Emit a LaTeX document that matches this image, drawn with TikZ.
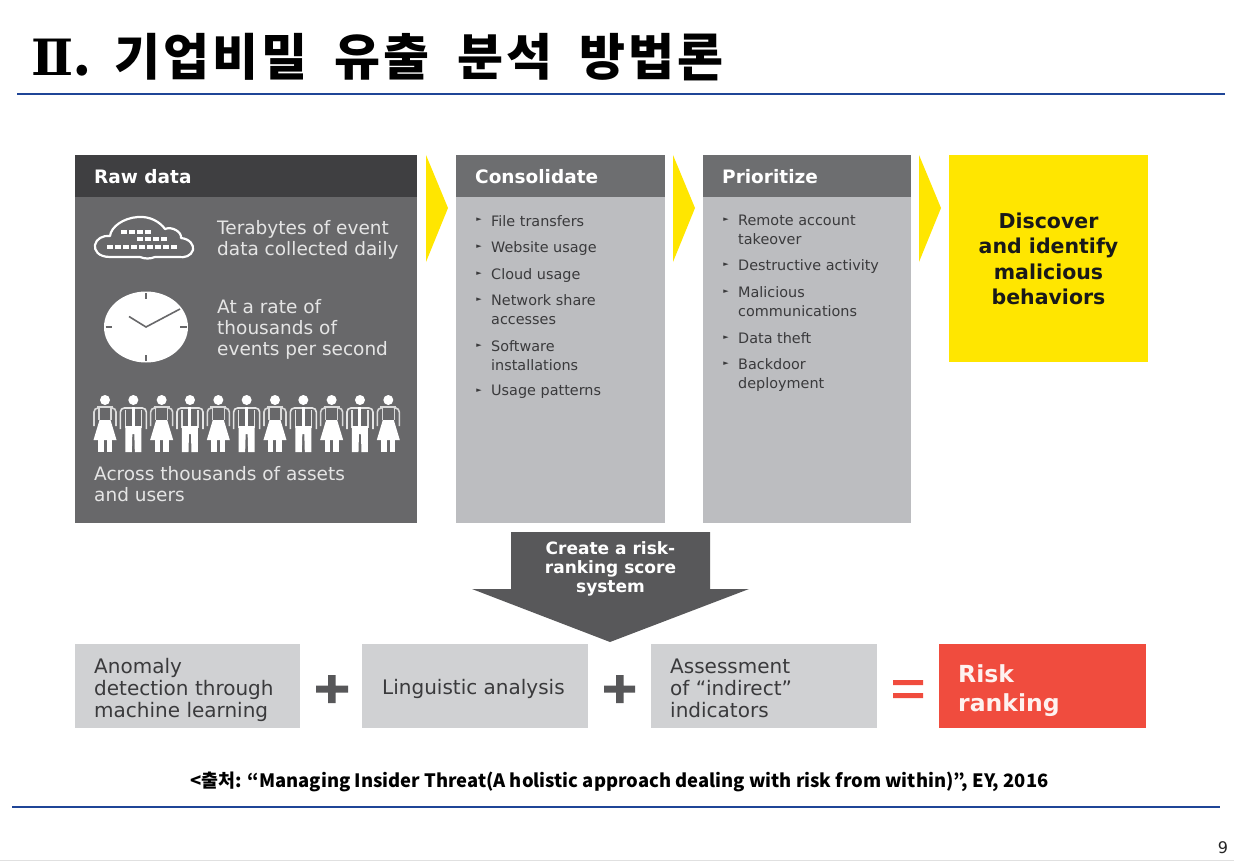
\documentclass[tikz,border=0pt]{standalone}
\usepackage{fontspec}
\setmainfont{DejaVu Sans}
\newfontfamily\krfont{Noto Sans CJK KR}
\newfontfamily\titlefont[LetterSpace=6,WordSpace=1.9]{Noto Sans CJK KR}
\newfontfamily\romfont{DejaVu Serif}
\usetikzlibrary{calc}
\definecolor{rawhead}{HTML}{3F3F41}
\definecolor{rawbody}{HTML}{68686A}
\definecolor{midhead}{HTML}{6D6E70}
\definecolor{midbody}{HTML}{BCBDC0}
\definecolor{lowbox}{HTML}{D0D1D3}
\definecolor{eyyellow}{HTML}{FFE600}
\definecolor{eyred}{HTML}{F04C3E}
\definecolor{arrowgrey}{HTML}{58585A}
\definecolor{rulenavy}{HTML}{1F4597}
\definecolor{txtdark}{HTML}{3A3A3C}
\tikzset{
  x=1pt,y=-1pt,
  panel/.style={fill=#1,draw=none},
  chev/.style={fill=eyyellow,draw=none},
  headtxt/.style={anchor=west,inner sep=0pt,text=white,font=\fontsize{18.5}{20}\selectfont\bfseries},
  rawtxt/.style={anchor=north west,inner sep=0pt,align=left,text=white!90!black,font=\fontsize{18.5}{21}\selectfont},
  listtxt/.style={anchor=north west,inner sep=0pt,align=left,text=txtdark,font=\fontsize{14.4}{19.3}\selectfont},
  bul/.style={anchor=center,inner sep=0pt,text=txtdark,font=\fontsize{7}{7}\selectfont},
  lowtxt/.style={anchor=west,inner sep=0pt,align=left,text=txtdark,font=\fontsize{20}{22.3}\selectfont},
  ruleline/.style={draw=rulenavy,line width=2pt},
  woman/.pic={
    \fill[white] (0,0) circle (5);
    \draw[white!85!black,line width=1.6pt,rounded corners=4] (-8,8) -- (-11,8) -- (-11,26);
    \draw[white!85!black,line width=1.6pt,rounded corners=4] (8,8) -- (11,8) -- (11,26);
    \draw[white!85!black,line width=1.3pt] (-8,7) -- (8,7) (-6,7) -- (-6,20) (6,7) -- (6,20);
    \fill[white] (-5.5,20) -- (5.5,20) -- (11.5,40) -- (-11.5,40) -- cycle;
    \fill[white] (-7,40) rectangle (-1.5,52);
    \fill[white] (1.5,40) rectangle (7,52);
  },
  man/.pic={
    \fill[white] (0,0) circle (5);
    \draw[white!90!black,line width=1.6pt,rounded corners=4] (-13,29) -- (-13,8) -- (13,8) -- (13,29);
    \draw[white!90!black,line width=1.3pt] (-8,10) -- (-8,28) (8,10) -- (8,28);
    \fill[white] (-1.5,7) rectangle (1.5,26);
    \fill[white] (-8,26) -- (8,26) -- (8,52) -- (1.5,52) -- (1,34) -- (-1,34) -- (-1.5,52) -- (-8,52) -- cycle;
  },
}
\begin{document}
\begin{tikzpicture}
\useasboundingbox (0,0) rectangle (1234,861);
\fill[white] (0,0) rectangle (1234,861);
% title
\node[anchor=west,inner sep=0pt,text=black,font=\titlefont\bfseries\fontsize{50}{54}\selectfont] (title) at (31,57) {{\romfont\bfseries Ⅱ}. \hspace{-9pt}기업비밀 유출 분석 방법론};
\coordinate (r1a) at (17,94); \coordinate (r1b) at (1225,94);
\draw[ruleline] (r1a) -- (r1b);
\coordinate (r2a) at (12,807); \coordinate (r2b) at (1220,807);
\draw[ruleline] (r2a) -- (r2b);
\fill[black!12] (0,860) rectangle (1234,861);
% panels
\path[panel=rawbody] (75,155) rectangle (417,523);
\path[panel=rawhead] (75,155) rectangle (417,197);
\path[panel=midbody] (456,155) rectangle (665,523);
\path[panel=midhead] (456,155) rectangle (665,197);
\path[panel=midbody] (703,155) rectangle (911,523);
\path[panel=midhead] (703,155) rectangle (911,197);
\path[panel=eyyellow] (949,155) rectangle (1148,362);
% chevrons
\path[chev] (426,155) -- (448,208) -- (426,262) -- cycle;
\path[chev] (673,155) -- (695,208) -- (673,262) -- cycle;
\path[chev] (919,155) -- (941,208) -- (919,262) -- cycle;
% headings
\node[headtxt] (h1) at (94,177) {Raw data};
\node[headtxt] (h2) at (475,177) {Consolidate};
\node[headtxt] (h3) at (722,177) {Prioritize};
% cloud
\draw[white,line width=2.2pt,line join=round]
  (110,257) .. controls (98,257) and (94,250) .. (95,245)
  .. controls (96,239) and (103,235) .. (110,236)
  .. controls (111,227) and (123,218) .. (138,217)
  .. controls (150,216) and (160,222) .. (165,229)
  .. controls (172,226) and (182,232) .. (181,238)
  .. controls (190,239) and (194,245) .. (193,250)
  .. controls (191,256) and (185,258) .. (178,257)
  -- (155,257) .. controls (150,259) and (145,259) .. (140,257) -- cycle;
\foreach \x in {124,132,140,148} \fill[white] (\x-3,230) rectangle (\x+3,234);
\foreach \x in {140,148,156,164} \fill[white] (\x-3,237) rectangle (\x+3,241);
\foreach \x in {110,118,126,134,142,150,158,166,174} \fill[white] (\x-3,244.5) rectangle (\x+3,248.5);
\node[rawtxt] (t1) at (217,220) {Terabytes of event\\data collected daily};
% clock
\fill[white] (146,327) ellipse (42 and 35.5);
\draw[rawbody,line width=1.6pt] (146,293) -- (146,299) (146,355) -- (146,361) (105.5,327) -- (112,327) (180,327) -- (187,327);
\draw[rawbody,line width=1.6pt] (129,316.5) -- (146,327) -- (180,309);
\node[rawtxt] (t2) at (217,299) {At a rate of\\thousands of\\events per second};
% people
\foreach \i in {0,2,...,10} \pic at ({105+28.33*\i},400) {woman};
\foreach \i in {1,3,...,9} \pic at ({105+28.33*\i},400) {man};
\node[rawtxt] (t3) at (94,466) {Across thousands of assets\\and users};
% consolidate list
\foreach \y in {220,247,273.5,300,346,390.5} \node[bul] at (479,\y) {►};
\node[listtxt] (c1) at (491,215) {File transfers};
\node[listtxt] (c2) at (491,241.5) {Website usage};
\node[listtxt] (c3) at (491,268) {Cloud usage};
\node[listtxt] (c4) at (491,294) {Network share\\accesses};
\node[listtxt] (c5) at (491,340) {Software\\installations};
\node[listtxt] (c6) at (491,385) {Usage patterns};
% prioritize list
\foreach \y in {220,265,291.5,338,364} \node[bul] at (726,\y) {►};
\node[listtxt] (p1) at (738,215) {Remote account\\takeover};
\node[listtxt] (p2) at (738,259.5) {Destructive activity};
\node[listtxt] (p3) at (738,286) {Malicious\\communications};
\node[listtxt] (p4) at (738,332) {Data theft};
\node[listtxt] (p5) at (738,358.5) {Backdoor\\deployment};
% discover
\node[inner sep=0pt,align=center,text=black!90,font=\fontsize{20.5}{25.5}\selectfont\bfseries] (disc) at (1048.5,259) {Discover\\and identify\\malicious\\behaviors};
% big arrow
\path[fill=arrowgrey] (511,532) -- (710,532) -- (710,589) -- (749,589) -- (610,642) -- (472,589) -- (511,589) -- cycle;
\node[inner sep=0pt,align=center,text=white,font=\fontsize{17}{19}\selectfont\bfseries] (risk) at (610.5,568.5) {Create a risk-\\ranking score\\system};
% bottom row
\path[panel=lowbox] (75,644) rectangle (300,728);
\path[panel=lowbox] (362,644) rectangle (588,728);
\path[panel=lowbox] (651,644) rectangle (877,728);
\path[panel=eyred] (939,644) rectangle (1146,728);
\node[lowtxt] (b1) at (94,690) {Anomaly\\detection through\\machine learning};
\node[lowtxt] (b2) at (382,689) {Linguistic analysis};
\node[lowtxt] (b3) at (670,688.5) {Assessment\\of “indirect”\\indicators};
\node[anchor=west,inner sep=0pt,align=left,text=white!92!eyred,font=\fontsize{23.5}{29.5}\selectfont\bfseries] (b4) at (958,690.5) {Risk\\ranking};
% plus / equals
\fill[txtdark!85!white] (328,675) rectangle (335.5,703) (316,685.5) rectangle (348,692.5);
\fill[txtdark!85!white] (616,675) rectangle (623.5,703) (604,685.5) rectangle (635,692.5);
\fill[eyred] (893,680) rectangle (923,685) (893,693) rectangle (923,698);
% source
\node[anchor=center,inner sep=0pt,text=black,font=\krfont\bfseries\fontsize{18.4}{22}\selectfont] (src) at (619.5,782) {<출처: “Managing Insider Threat(A holistic approach dealing with risk from within)”, EY, 2016};
\node[anchor=center,inner sep=0pt,text=black!85,font=\fontsize{16}{20}\selectfont] (pg) at (1223,848) {9};
\end{tikzpicture}
\end{document}
